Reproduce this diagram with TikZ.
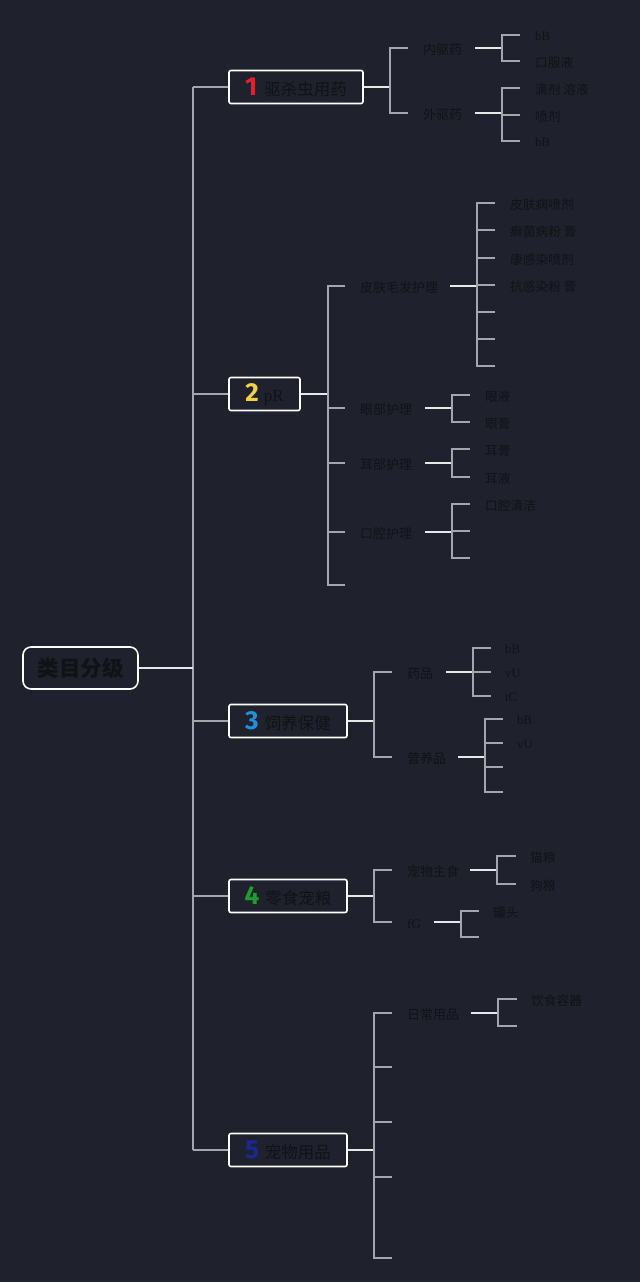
\documentclass[tikz,border=0pt]{standalone}
\usepackage{fontspec}
\setmainfont{Noto Sans CJK SC}
\newfontfamily\lat{Liberation Serif}
\newfontfamily\numf{Fira Sans}
\definecolor{bg}{HTML}{1F222C}
\definecolor{lgrey}{HTML}{A3A6AD}
\definecolor{lwhite}{HTML}{E8E8E8}
\definecolor{tcol}{HTML}{101216}
\definecolor{n1}{HTML}{E3202C}
\definecolor{n2}{HTML}{F2D344}
\definecolor{n3}{HTML}{1E90DC}
\definecolor{n4}{HTML}{1E9E2E}
\definecolor{n5}{HTML}{1A2896}
\tikzset{
  link/.style={draw=lgrey, line width=1.5pt},
  hot/.style={draw=lwhite, line width=1.6pt},
  box/.style={draw=white, line width=1.6pt, rounded corners=2pt, fill=bg, inner sep=0pt, minimum height=33pt, text=tcol, font=\fontsize{16.5}{16.5}\selectfont},
  rootbox/.style={draw=white, line width=1.6pt, rounded corners=8pt, fill=bg, inner sep=0pt, minimum width=115pt, minimum height=42pt, text=tcol, font=\fontsize{21.5}{21.5}\selectfont\bfseries},
  lab/.style={anchor=west, inner sep=0pt, yshift=-1.5pt, text=tcol, font=\fontsize{13}{13}\selectfont},
  leaf/.style={anchor=west, inner sep=0pt, yshift=-1.5pt, text=tcol, font=\fontsize{12.7}{12.7}\selectfont},
}
\newcommand\numb[2]{{\numf\bfseries\fontsize{26}{26}\selectfont\textcolor{#1}{#2}}}
\begin{document}
\begin{tikzpicture}[x=1pt,y=-1pt]
\fill[bg] (0,0) rectangle (640,1282);
\useasboundingbox (0,0) rectangle (640,1282);

% root and trunk
\node[rootbox] (root) at (80.5,668) {类目分级};
\coordinate (trunk) at (193,668);
\coordinate (ttop) at (193,87);
\coordinate (tbot) at (193,1150);
\draw[link] (ttop) -- (tbot);
\draw[hot] (root.east) -- (trunk);

% level 1 boxes
\node[box, minimum width=134pt] (b1) at (296,87) {\numb{n1}{1}\hspace{7pt}驱杀虫用药};
\node[box, minimum width=71pt] (b2) at (264.5,394) {\numb{n2}{2}\hspace{5pt}{\lat\fontsize{17}{17}\selectfont pR}};
\node[box, minimum width=118pt] (b3) at (288,721) {\numb{n3}{3}\hspace{6pt}饲养保健};
\node[box, minimum width=118pt] (b4) at (288,896) {\numb{n4}{4}\hspace{6pt}零食宠粮};
\node[box, minimum width=118pt] (b5) at (288,1150) {\numb{n5}{5}\hspace{6pt}宠物用品};
\foreach \b in {b1,b2,b3,b4,b5} \draw[link] (ttop |- \b.west) -- (\b.west);

% ---------- branch 1
\draw[hot] (b1.east) -- (390,87);
\draw[link] (408,48) -- (390,48) -- (390,113) -- (408,113);
\node[lab] (c11) at (423,48) {内驱药};
\node[lab] (c12) at (423,113) {外驱药};
\draw[hot] (475,48) -- (502,48);
\draw[link] (520,35) -- (502,35) -- (502,61) -- (520,61);
\node[leaf] (l111) at (535,35) {\lat bB};
\node[leaf] (l112) at (535,61) {口服液};
\draw[hot] (475,113) -- (502,113);
\draw[link] (520,88) -- (502,88) -- (502,141) -- (520,141);
\draw[link] (502,115) -- (520,115);
\node[leaf] (l121) at (535,88) {滴剂 溶液};
\node[leaf] (l122) at (535,115) {喷剂};
\node[leaf] (l123) at (535,141) {\lat bB};

% ---------- branch 2
\draw[hot] (b2.east) -- (328,394);
\draw[link] (345,286) -- (328,286) -- (328,585) -- (345,585);
\foreach \y in {408,463,532} \draw[link] (328,\y) -- (345,\y);
\node[lab] (c21) at (360,286) {皮肤毛发护理};
\node[lab] (c22) at (360,408) {眼部护理};
\node[lab] (c23) at (360,463) {耳部护理};
\node[lab] (c24) at (360,532) {口腔护理};
% skin
\draw[hot] (450,286) -- (477,286);
\draw[link] (495,203) -- (477,203) -- (477,366) -- (495,366);
\foreach \y in {230,258,285,312,339} \draw[link] (477,\y) -- (495,\y);
\node[leaf] (l211) at (510,203) {皮肤病喷剂};
\node[leaf] (l212) at (510,230) {癣菌病粉 膏};
\node[leaf] (l213) at (510,258) {康感染喷剂};
\node[leaf] (l214) at (510,285) {抗感染粉 膏};
% eye
\draw[hot] (425,408) -- (452,408);
\draw[link] (470,395) -- (452,395) -- (452,422) -- (470,422);
\node[leaf] (l221) at (485,395) {眼液};
\node[leaf] (l222) at (485,422) {眼膏};
% ear
\draw[hot] (425,463) -- (452,463);
\draw[link] (470,449) -- (452,449) -- (452,477) -- (470,477);
\node[leaf] (l231) at (485,449) {耳膏};
\node[leaf] (l232) at (485,477) {耳液};
% mouth
\draw[hot] (425,532) -- (452,532);
\draw[link] (470,504) -- (452,504) -- (452,558) -- (470,558);
\draw[link] (452,531) -- (470,531);
\node[leaf] (l241) at (485,504) {口腔清洁};

% ---------- branch 3
\draw[hot] (b3.east) -- (374,721);
\draw[link] (392,672) -- (374,672) -- (374,757) -- (392,757);
\node[lab] (c31) at (407,672) {药品};
\node[lab] (c32) at (407,757) {营养品};
\draw[hot] (446,672) -- (473,672);
\draw[link] (491,648) -- (473,648) -- (473,696) -- (491,696);
\draw[link] (473,672) -- (491,672);
\node[leaf] (l311) at (505,648) {\lat bB};
\node[leaf] (l312) at (505,672) {\lat vU};
\node[leaf] (l313) at (505,696) {\lat tC};
\draw[hot] (458,757) -- (485,757);
\draw[link] (503,719) -- (485,719) -- (485,792) -- (503,792);
\foreach \y in {743,767} \draw[link] (485,\y) -- (503,\y);
\node[leaf] (l321) at (517,719) {\lat bB};
\node[leaf] (l322) at (517,743) {\lat vU};

% ---------- branch 4
\draw[hot] (b4.east) -- (374,896);
\draw[link] (392,870) -- (374,870) -- (374,922) -- (392,922);
\node[lab] (c41) at (407,870) {宠物主食};
\node[lab] (c42) at (407,922) {\lat fG};
\draw[hot] (470,870) -- (497,870);
\draw[link] (516,856) -- (497,856) -- (497,884) -- (516,884);
\node[leaf] (l411) at (530,856) {猫粮};
\node[leaf] (l412) at (530,884) {狗粮};
\draw[hot] (434,922) -- (461,922);
\draw[link] (479,911) -- (461,911) -- (461,937) -- (479,937);
\node[leaf] (l421) at (493,911) {罐头};

% ---------- branch 5
\draw[hot] (b5.east) -- (374,1150);
\draw[link] (392,1013) -- (374,1013) -- (374,1258) -- (392,1258);
\foreach \y in {1067,1122,1177} \draw[link] (374,\y) -- (392,\y);
\node[lab] (c51) at (407,1013) {日常用品};
\draw[hot] (471,1013) -- (498,1013);
\draw[link] (517,999) -- (498,999) -- (498,1026) -- (517,1026);
\node[leaf] (l511) at (531,999) {饮食容器};
\end{tikzpicture}
\end{document}
